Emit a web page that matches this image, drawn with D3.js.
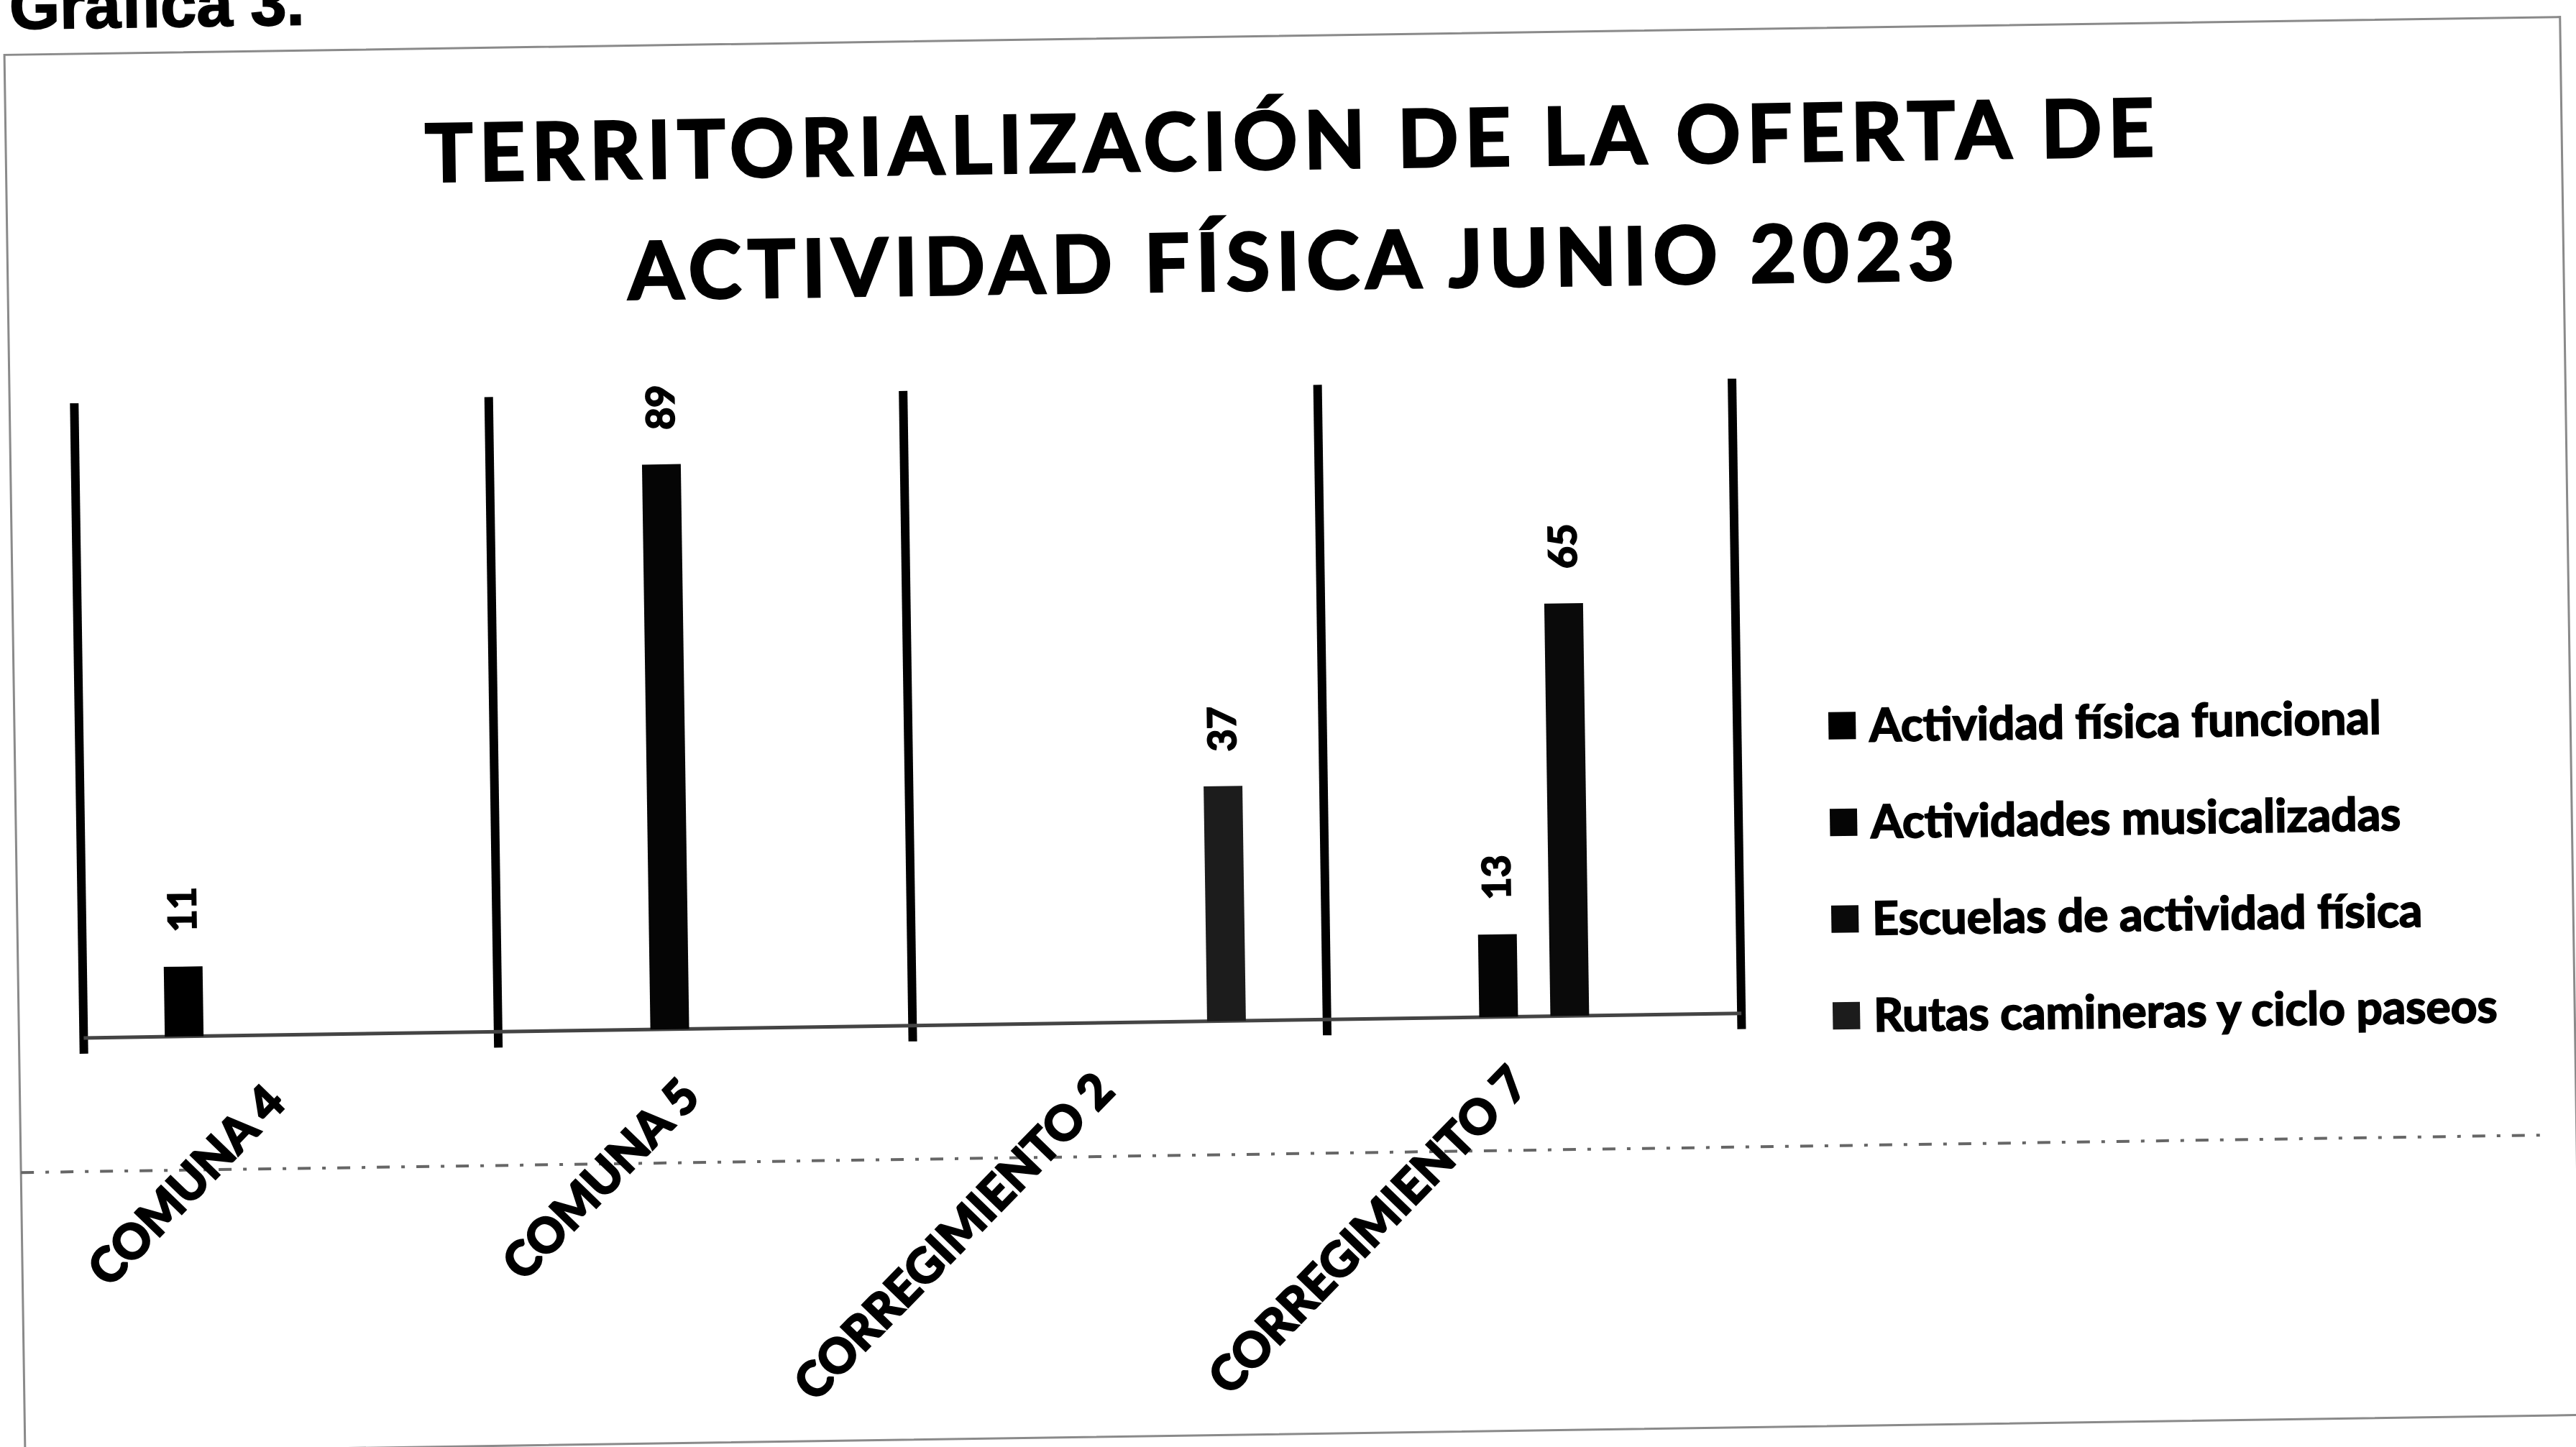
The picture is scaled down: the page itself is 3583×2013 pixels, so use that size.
<!DOCTYPE html>
<html>
<head>
<meta charset="utf-8">
<script src="https://cdn.jsdelivr.net/npm/d3@7"></script>
<style>
  body { margin: 0; background: #fff; }
  text { font-family: Lato, "Open Sans", sans-serif; font-weight: bold; fill: #000; stroke: #000; stroke-width: 2px; }
</style>
</head>
<body>
<div id="chart"></div>
<script>
// data
var categories = ["COMUNA 4", "COMUNA 5", "CORREGIMIENTO 2", "CORREGIMIENTO 7"];
var seriesNames = ["Actividad física funcional", "Actividades musicalizadas", "Escuelas de actividad física", "Rutas camineras y ciclo paseos"];
var funcional = [11, null, null, null];
var musicalizadas = [null, 89, null, 13];
var escuelas = [null, null, null, 65];
var rutas = [null, null, 37, null];
var titleLines = ["TERRITORIALIZACIÓN DE LA OFERTA DE", "ACTIVIDAD FÍSICA JUNIO 2023"];

var seriesValues = [funcional, musicalizadas, escuelas, rutas];
var seriesColors = ["#000", "#050505", "#0a0a0a", "#1c1c1c"];

var svgWidth = 3583;
var svgHeight = 2013;

var plot = { left: 110, right: 2416, top: 536, bottom: 1419 };

var svg = d3.select("#chart")
  .append("svg")
  .attr("width", svgWidth)
  .attr("height", svgHeight);

svg.append("rect")
  .attr("width", svgWidth)
  .attr("height", svgHeight)
  .attr("fill", "#fff");

// the scan is a little skewed, so the whole page is turned slightly
var page = svg.append("g")
  .attr("transform", "rotate(-0.85, 1790, 1000)");

page.append("text")
  .attr("x", 28)
  .attr("y", 14)
  .style("font-family", "'Liberation Sans', Arial, sans-serif")
  .style("font-size", "90px")
  .text("Gráfica 3.");

// chart frame
page.append("rect")
  .attr("x", 20)
  .attr("y", 50)
  .attr("width", 3555)
  .attr("height", 1945)
  .attr("fill", "none")
  .attr("stroke", "#8a8a8a")
  .attr("stroke-width", 3);

// faint dotted line that shows through the scan
page.append("line")
  .attr("x1", 20)
  .attr("x2", 3530)
  .attr("y1", 1605)
  .attr("y2", 1605)
  .attr("stroke", "#666")
  .attr("stroke-width", 4)
  .attr("stroke-dasharray", "18 16 5 16");

// title
page.selectAll(".title")
  .data(titleLines)
  .enter()
  .append("text")
  .attr("class", "title")
  .attr("x", 1810)
  .attr("y", (d, i) => 235 + i * 168)
  .attr("text-anchor", "middle")
  .style("font-size", "111px")
  .style("letter-spacing", "9px")
  .style("stroke-width", "3px")
  .text(d => d);

// scales
var x0 = d3.scaleBand()
  .domain(categories)
  .range([plot.left, plot.right])
  .padding(0);

var x1 = d3.scaleBand()
  .domain(d3.range(seriesNames.length))
  .range([0, x0.bandwidth()])
  .paddingInner(0.455)
  .paddingOuter(1.14);

var y = d3.scaleLinear()
  .domain([0, 100])
  .range([plot.bottom, plot.top]);

// heavy separators between the categories
var edges = categories.map(c => x0(c)).concat([x0.range()[1]]);
page.selectAll(".sep")
  .data(edges)
  .enter()
  .append("line")
  .attr("class", "sep")
  .attr("x1", d => d)
  .attr("x2", d => d)
  .attr("y1", y(100))
  .attr("y2", y(0) + 22)
  .attr("stroke", "#000")
  .attr("stroke-width", 12);

// category axis line
page.append("line")
  .attr("x1", plot.left)
  .attr("x2", plot.right)
  .attr("y1", y(0))
  .attr("y2", y(0))
  .attr("stroke", "#444")
  .attr("stroke-width", 5);

// bars + labels
var bars = [];
seriesValues.forEach(function(vals, s) {
  vals.forEach(function(v, i) {
    if (v !== null) bars.push({ s: s, cat: categories[i], value: v });
  });
});

page.selectAll(".bar")
  .data(bars)
  .enter()
  .append("rect")
  .attr("class", "bar")
  .attr("x", d => x0(d.cat) + x1(d.s))
  .attr("y", d => y(d.value))
  .attr("width", x1.bandwidth())
  .attr("height", d => y(0) - y(d.value))
  .attr("fill", d => seriesColors[d.s]);

page.selectAll(".value")
  .data(bars)
  .enter()
  .append("text")
  .attr("class", "value")
  .attr("transform", d => `translate(${x0(d.cat) + x1(d.s) + x1.bandwidth() / 2}, ${y(d.value) - 48}) rotate(-90)`)
  .attr("dy", "0.35em")
  .style("font-size", "54px")
  .text(d => d.value);

// rotated category labels
page.selectAll(".cat")
  .data(categories)
  .enter()
  .append("text")
  .attr("class", "cat")
  .attr("transform", d => `translate(${x0(d) + x0.bandwidth() / 2 - 40}, ${y(0) + 64}) rotate(-45)`)
  .attr("text-anchor", "end")
  .attr("dy", "0.72em")
  .style("font-size", "66px")
  .style("stroke-width", "3px")
  .text(d => d);

// legend
var legend = page.selectAll(".legend")
  .data(seriesNames)
  .enter()
  .append("g")
  .attr("class", "legend")
  .attr("transform", (d, i) => `translate(2543, ${1021 + i * 134.5})`);

legend.append("rect")
  .attr("x", 0)
  .attr("y", -19)
  .attr("width", 38)
  .attr("height", 38)
  .attr("fill", (d, i) => seriesColors[i]);

legend.append("text")
  .attr("x", 57)
  .attr("dy", "0.35em")
  .style("font-size", "64px")
  .text(d => d);
</script>
</body>
</html>
